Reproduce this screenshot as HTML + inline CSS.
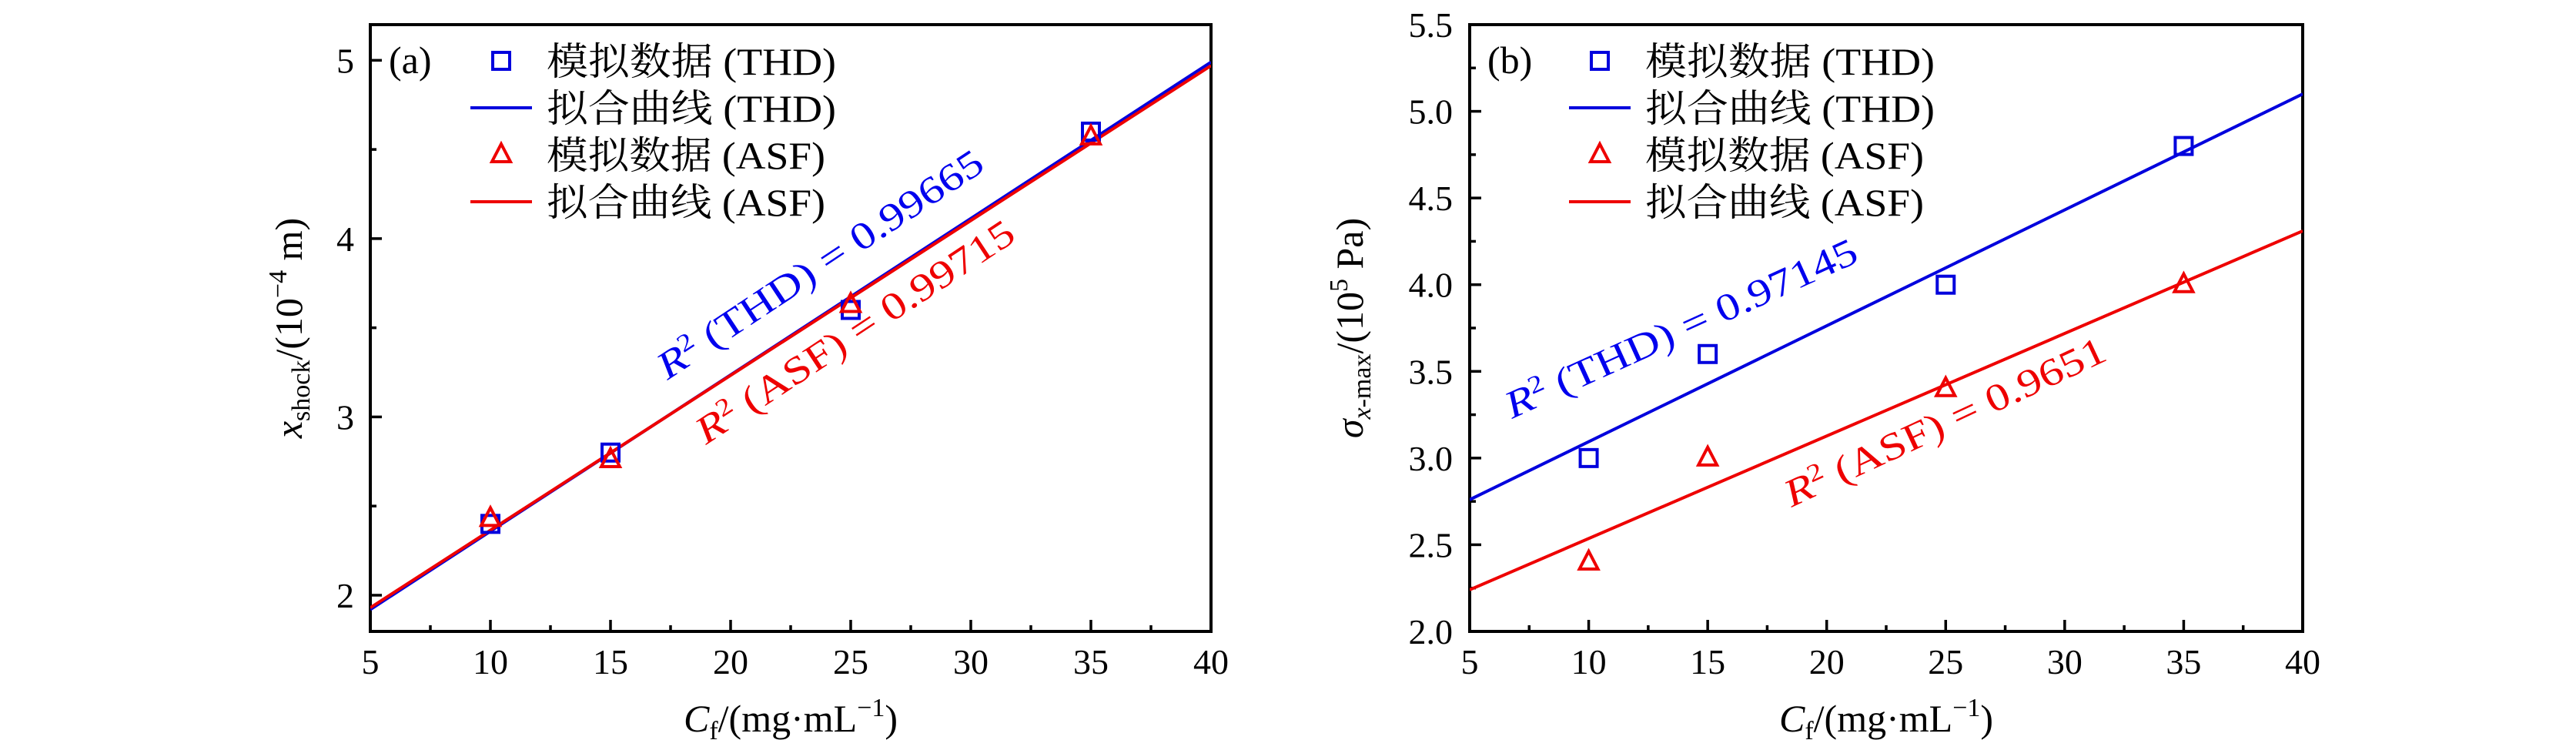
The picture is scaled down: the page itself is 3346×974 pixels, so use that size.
<!DOCTYPE html>
<html><head><meta charset="utf-8"><style>
html,body{margin:0;padding:0;background:#fff;}
svg{display:block;}
text{font-family:"Liberation Serif","Noto Serif CJK SC","Noto Sans CJK SC",serif;}
</style></head><body>
<svg id="chart" width="3346" height="974" viewBox="0 0 3346 974" xmlns="http://www.w3.org/2000/svg"></svg>
<script>
// Shared categories
const xCats = [10, 15, 25, 35];
const xTicks = [5, 10, 15, 20, 25, 30, 35, 40];
// Panel (a)
const aThdValues = [2.4, 2.8, 3.6, 4.6];
const aAsfValues = [2.43, 2.76, 3.63, 4.57];
const aThdFit = [1.92, 4.99];   // values at x=5 and x=40
const aAsfFit = [1.93, 4.97];
const aYTicks = [2, 3, 4, 5];
const aYTickLabels = ["2", "3", "4", "5"];
// Panel (b)
const bThdValues = [3.0, 3.6, 4.0, 4.8];
const bAsfValues = [2.4, 3.0, 3.4, 4.0];
const bThdFit = [2.76, 5.1];
const bAsfFit = [2.24, 4.31];
const bYTicks = [2.0, 2.5, 3.0, 3.5, 4.0, 4.5, 5.0, 5.5];
const bYTickLabels = ["2.0", "2.5", "3.0", "3.5", "4.0", "4.5", "5.0", "5.5"];
const fitX = [5, 40];

const NS = "http://www.w3.org/2000/svg";
const svg = document.getElementById("chart");
function mk(tag, attrs, parent) {
  const e = document.createElementNS(NS, tag);
  for (const k in attrs) e.setAttribute(k, attrs[k]);
  (parent || svg).appendChild(e);
  return e;
}

function panel(cfg) {
  const g = mk("g", {});
  
  
  const L = cfg.left, R = cfg.right, T = 32, B = 820;
  const sx = v => L + (v - 5) / 35 * (R - L);
  const sy = v => B - (v - cfg.ymin) / (cfg.ymax - cfg.ymin) * (B - T);

  const tg = mk("g", {stroke: "#000", "stroke-width": 3.5}, g);
  
  
  for (let i = 0; i < xTicks.length; i++) {
    const x = sx(xTicks[i]);
    mk("line", {x1: x, x2: x, y1: B, y2: B - 15}, tg);
    if (i < xTicks.length - 1) { const xm = sx(xTicks[i] + 2.5); mk("line", {x1: xm, x2: xm, y1: B, y2: B - 8}, tg); }
    const t = mk("text", {x: x, y: 875, "font-size": 46, "text-anchor": "middle", fill: "#000"}, g);
    t.textContent = xTicks[i];
    
    
  }
  for (let i = 0; i < cfg.yTicks.length; i++) {
    const y = sy(cfg.yTicks[i]);
    mk("line", {x1: L, x2: L + 15, y1: y, y2: y}, tg);
    const ym = sy(cfg.yTicks[i] + cfg.minor);
    if (ym > T + 2) mk("line", {x1: L, x2: L + 8, y1: ym, y2: ym}, tg);
    const ym2 = sy(cfg.yTicks[i] - cfg.minor);
    if (i === 0 && ym2 < B - 2) mk("line", {x1: L, x2: L + 8, y1: ym2, y2: ym2}, tg);
    const t = mk("text", {x: cfg.ylabX, y: y + 16, "font-size": 46, "text-anchor": "end", fill: "#000"}, g);
    t.textContent = cfg.yTickLabels[i];
    
    
  }
  const fr = mk("rect", {x: L, y: T, width: R - L, height: B - T, fill: "none", stroke: "#000", "stroke-width": 4}, g);
  
  

  const cid = "clip" + cfg.name;
  const cp = mk("clipPath", {id: cid}, g);
  mk("rect", {x: L, y: T, width: R - L, height: B - T}, cp);

  const l1 = mk("line", {x1: sx(fitX[0]), y1: sy(cfg.thdFit[0]), x2: sx(fitX[1]), y2: sy(cfg.thdFit[1]), stroke: "#0000dd", "stroke-width": 4, "clip-path": "url(#" + cid + ")"}, g);
  
  
  const l2 = mk("line", {x1: sx(fitX[0]), y1: sy(cfg.asfFit[0]), x2: sx(fitX[1]), y2: sy(cfg.asfFit[1]), stroke: "#ee0000", "stroke-width": 4, "clip-path": "url(#" + cid + ")"}, g);
  
  

  for (let i = 0; i < xCats.length; i++) {
    const x = sx(xCats[i]), y = sy(cfg.thd[i]);
    const s = mk("rect", {x: x - 11, y: y - 11, width: 22, height: 22, fill: "none", stroke: "#0000dd", "stroke-width": 4}, g);
    
    
  }
  for (let i = 0; i < xCats.length; i++) {
    const x = sx(xCats[i]), y = sy(cfg.asf[i]);
    const p = mk("polygon", {points: (x) + "," + (y - 14) + " " + (x + 12) + "," + (y + 9) + " " + (x - 12) + "," + (y + 9), fill: "none", stroke: "#ee0000", "stroke-width": 4}, g);
    
    
  }

  const pl = mk("text", {x: cfg.plX, y: 95, "font-size": 50, fill: "#000"}, g);
  pl.textContent = cfg.label;
  
  

  const lg = mk("g", {}, g);
  
  
  const rows = [79, 140, 201, 262];
  const names = ["模拟数据 (THD)", "拟合曲线 (THD)", "模拟数据 (ASF)", "拟合曲线 (ASF)"];
  const lens = [376, 376, 362, 362];
  const mx = cfg.legX;
  mk("rect", {x: mx - 11, y: rows[0] - 11, width: 22, height: 22, fill: "none", stroke: "#0000dd", "stroke-width": 4}, lg);
  mk("line", {x1: mx - 40, x2: mx + 40, y1: rows[1], y2: rows[1], stroke: "#0000dd", "stroke-width": 4}, lg);
  mk("polygon", {points: mx + "," + (rows[2] - 14) + " " + (mx + 12) + "," + (rows[2] + 9) + " " + (mx - 12) + "," + (rows[2] + 9), fill: "none", stroke: "#ee0000", "stroke-width": 4}, lg);
  mk("line", {x1: mx - 40, x2: mx + 40, y1: rows[3], y2: rows[3], stroke: "#ee0000", "stroke-width": 4}, lg);
  for (let i = 0; i < 4; i++) {
    const t = mk("text", {x: mx + 59, y: rows[i] + 18, "font-size": 50, fill: "#000", textLength: lens[i], lengthAdjust: "spacingAndGlyphs"}, lg);
    t.textContent = names[i];
    
    
  }

  const xt = mk("text", {x: (L + R) / 2, y: 950, "font-size": 50, "text-anchor": "middle", fill: "#000"}, g);
  xt.innerHTML = '<tspan font-style="italic">C</tspan><tspan font-size="34" dy="10">f</tspan><tspan dy="-10">/(mg·mL</tspan><tspan font-size="34" dy="-20">−1</tspan><tspan dy="20">)</tspan>';
  
  

  const yt = mk("text", {x: 0, y: 0, "font-size": 50, "text-anchor": "middle", fill: "#000", transform: "translate(" + cfg.ytX + "," + ((T + B) / 2) + ") rotate(-90)"}, g);
  yt.innerHTML = cfg.yTitle;
  
  

  for (const an of cfg.ann) {
    const t = mk("text", {x: 0, y: 0, "font-size": 50, style: "fill:" + an.c, textLength: an.len, lengthAdjust: "spacingAndGlyphs", transform: "translate(" + an.x + "," + an.y + ") rotate(" + an.r + ")"}, g);
    t.innerHTML = '<tspan font-style="italic">R</tspan><tspan font-size="32" dy="-18">2</tspan><tspan dy="18"> ' + an.t + '</tspan>';
    
    
  }
}

panel({
  name: "panel-a", left: 481, right: 1573, ymin: 1.797, ymax: 5.2, minor: 0.5,
  yTicks: aYTicks, yTickLabels: aYTickLabels, ylabX: 460,
  thd: aThdValues, asf: aAsfValues, thdFit: aThdFit, asfFit: aAsfFit,
  label: "(a)", plX: 505, legX: 651, ytX: 392,
  yTitle: '<tspan font-style="italic">x</tspan><tspan font-size="34" dy="10">shock</tspan><tspan dy="-10">/(10</tspan><tspan font-size="34" dy="-20">−4</tspan><tspan dy="20"> m)</tspan>',
  ann: [
    {x: 867, y: 494, r: -33.5, len: 497, c: "#0000ee", t: "(THD) = 0.99665", n: "r2-label-thd"},
    {x: 917, y: 578, r: -33.4, len: 485, c: "#ee0000", t: "(ASF) = 0.99715", n: "r2-label-asf"}
  ]
});
panel({
  name: "panel-b", left: 1909, right: 2991, ymin: 2.0, ymax: 5.5, minor: 0.25,
  yTicks: bYTicks, yTickLabels: bYTickLabels, ylabX: 1887,
  thd: bThdValues, asf: bAsfValues, thdFit: bThdFit, asfFit: bAsfFit,
  label: "(b)", plX: 1932, legX: 2078, ytX: 1770,
  yTitle: '<tspan font-style="italic">σ</tspan><tspan font-size="34" dy="10"><tspan font-style="italic">x</tspan>-max</tspan><tspan dy="-10">/(10</tspan><tspan font-size="34" dy="-20">5</tspan><tspan dy="20"> Pa)</tspan>',
  ann: [
    {x: 1964, y: 544, r: -24.4, len: 497, c: "#0000ee", t: "(THD) = 0.97145", n: "r2-label-thd"},
    {x: 2327, y: 659, r: -25, len: 455, c: "#ee0000", t: "(ASF) = 0.9651", n: "r2-label-asf"}
  ]
});
</script>
</body></html>
